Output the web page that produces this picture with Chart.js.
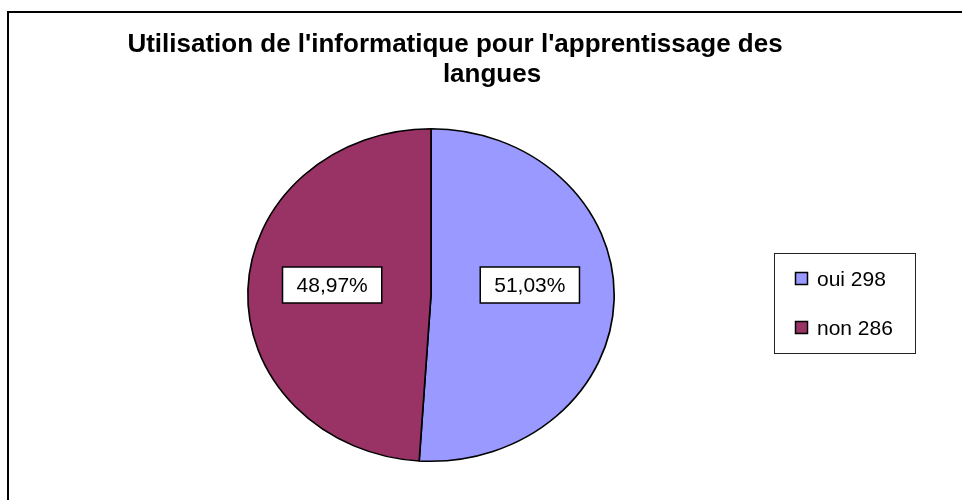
<!DOCTYPE html>
<html><head><meta charset="utf-8">
<script src="https://cdn.jsdelivr.net/npm/chart.js@4.4.0/dist/chart.umd.min.js"></script>
<style>html,body{margin:0;padding:0;background:#fff;} #wrap{width:962px;height:500px;position:relative;}</style>
</head><body><div id="wrap"><canvas id="c" width="962" height="500"></canvas></div>
<script>
const categories = ['oui', 'non'];
const counts = [298, 286];
const colors = ['#9999FF', '#993366'];
const titleLines = ["Utilisation de l'informatique pour l'apprentissage des", "langues"];

const total = counts.reduce((a, b) => a + b, 0);
const legendLabels = categories.map((c, i) => c + ' ' + counts[i]);
const pctLabels = counts.map(v => (v / total * 100).toFixed(2).replace('.', ',') + '%');

const SX = 184 / 167; // horizontal stretch of the pie (ellipse)
const FONT = '"Liberation Sans", Arial, sans-serif';

const framePlugin = {
  id: 'frame',
  beforeDraw(chart) {
    const ctx = chart.ctx;
    ctx.save();
    ctx.fillStyle = '#fff';
    ctx.fillRect(0, 0, chart.width, chart.height);
    ctx.strokeStyle = '#000';
    ctx.lineWidth = 2;
    ctx.strokeRect(8, 12, 1200, 1200);
    ctx.fillStyle = '#000';
    ctx.font = 'bold 26px ' + FONT;
    ctx.textAlign = 'center';
    ctx.textBaseline = 'alphabetic';
    ctx.fillText(titleLines[0], 455, 52);
    ctx.fillText(titleLines[1], 492, 82);
    ctx.restore();
  }
};

const stretchPlugin = {
  id: 'stretch',
  beforeDatasetsDraw(chart) {
    const ctx = chart.ctx;
    const a = chart.chartArea;
    const cx = (a.left + a.right) / 2;
    ctx.save();
    ctx.translate(cx, 0);
    ctx.scale(SX, 1);
    ctx.translate(-cx, 0);
  },
  afterDatasetsDraw(chart) {
    chart.ctx.restore();
  }
};

const labelPlugin = {
  id: 'pctLabels',
  afterDraw(chart) {
    const ctx = chart.ctx;
    const meta = chart.getDatasetMeta(0);
    ctx.save();
    ctx.font = '21px ' + FONT;
    ctx.textAlign = 'center';
    ctx.textBaseline = 'middle';
    meta.data.forEach((arc, i) => {
      const p = arc.getProps(['x', 'y', 'startAngle', 'endAngle', 'outerRadius'], true);
      const mid = (p.startAngle + p.endAngle) / 2;
      const f = 0.54;
      const px = p.x + Math.cos(mid) * p.outerRadius * f * SX;
      const py = p.y - 10;
      const txt = pctLabels[i];
      const w = ctx.measureText(txt).width + 28;
      const h = 36;
      ctx.fillStyle = '#fff';
      ctx.fillRect(px - w / 2, py - h / 2, w, h);
      ctx.strokeStyle = '#000';
      ctx.lineWidth = 1.5;
      ctx.strokeRect(px - w / 2, py - h / 2, w, h);
      ctx.fillStyle = '#000';
      ctx.fillText(txt, px, py + 1);
    });
    ctx.strokeStyle = '#222';
    ctx.lineWidth = 1;
    ctx.strokeRect(774.5, 253.5, 141, 100);
    ctx.textAlign = 'left';
    legendLabels.forEach((lab, i) => {
      const y = 279 + i * 49;
      ctx.fillStyle = colors[i];
      ctx.fillRect(795.5, y - 6.5, 12, 12);
      ctx.strokeStyle = '#000';
      ctx.lineWidth = 1.5;
      ctx.strokeRect(795.5, y - 6.5, 12, 12);
      ctx.fillStyle = '#000';
      ctx.fillText(lab, 817, y + 1);
    });
    ctx.restore();
  }
};

new Chart(document.getElementById('c'), {
  type: 'pie',
  data: {
    labels: legendLabels,
    datasets: [{
      data: counts,
      backgroundColor: colors,
      borderColor: '#000',
      borderWidth: 1.5
    }]
  },
  options: {
    responsive: false,
    animation: false,
    layout: { padding: { top: 128, bottom: 38, left: 231, right: 331 } },
    plugins: { legend: { display: false }, tooltip: { enabled: false }, title: { display: false } }
  },
  plugins: [framePlugin, stretchPlugin, labelPlugin]
});
</script>
</body></html>
